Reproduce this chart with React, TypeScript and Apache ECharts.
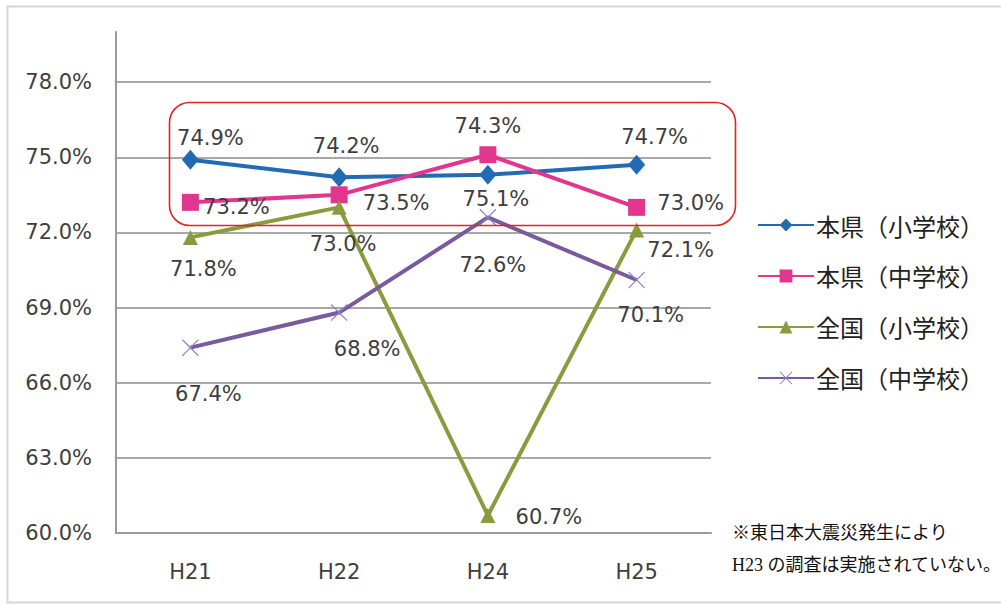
import React, { useEffect, useRef } from "react";
import * as echarts from "echarts";

const categories = ["H21", "H22", "H24", "H25"];
const seriesNames = ["本県（小学校）", "本県（中学校）", "全国（小学校）", "全国（中学校）"];
const prefElementary = [74.9, 74.2, 74.3, 74.7];
const prefJunior = [73.2, 73.5, 75.1, 73.0];
const natElementary = [71.8, 73.0, 60.7, 72.1];
const natJunior = [67.4, 68.8, 72.6, 70.1];
const yMin = 60;
const yMax = 80;
const yInterval = 3;
const noteLines = ["※東日本大震災発生により", "H23 の調査は実施されていない。"];

// label offsets (style) relative to each marker centre
const offBlue = [[20, -22], [7, -31], [0, -49], [18, -28]];
const offPink = [[46, 5], [57, 8], [8, 44], [54, -4]];
const offGreen = [[13, 32], [4, 37], [61, 2], [44, 20]];
const offPurple = [[18, 46], [28, 36], [5, 48], [14, 35]];

const crossPath =
  "path://M0,1 L1,0 L10,9 L19,0 L20,1 L11,10 L20,19 L19,20 L10,11 L1,20 L0,19 L9,10 Z";

const FONT = "DejaVu Sans";

const labelFont = {
  fontFamily: FONT,
  fontSize: 21,
  color: "#3e3e3e",
};

function mkSeries(
  name: string,
  data: number[],
  color: string,
  symbol: string,
  symbolSize: any,
  offsets: number[][],
  symbolColor?: string
) {
  return {
    name,
    type: "line",
    data: data.map((v, i) => ({
      value: v,
      label: { offset: offsets[i] },
    })),
    symbol,
    symbolSize,
    lineStyle: { color, width: 4 },
    itemStyle: { color: symbolColor || color },
    label: {
      show: true,
      position: "inside",
      formatter: (p: any) => p.value.toFixed(1) + "%",
      ...labelFont,
    },
    z: 3,
  };
}

export default function App() {
  const ref = useRef<HTMLDivElement>(null);
  useEffect(() => {
    if (!ref.current) return;
    const chart = echarts.init(ref.current, null, { renderer: "svg" });
    chart.setOption({
      animation: false,
      backgroundColor: "#ffffff",
      grid: { left: 116, right: 290, top: 32, bottom: 72 },
      xAxis: {
        type: "category",
        data: categories,
        boundaryGap: true,
        axisTick: { show: false },
        axisLine: { lineStyle: { color: "#9a9a9a", width: 2 } },
        axisLabel: {
          margin: 28,
          ...labelFont,
        },
      },
      yAxis: {
        type: "value",
        min: yMin,
        max: yMax,
        interval: yInterval,
        axisLine: { show: true, lineStyle: { color: "#9a9a9a", width: 2 } },
        axisTick: { show: false },
        axisLabel: {
          margin: 24,
          showMaxLabel: false,
          formatter: (v: number) => v.toFixed(1) + "%",
          ...labelFont,
        },
        splitLine: {
          show: true,
          showMaxLine: false,
          lineStyle: { color: "#a8a8a8", width: 2 },
        },
      },
      legend: {
        orient: "vertical",
        left: 752,
        top: 208,
        itemWidth: 56,
        itemHeight: 16,
        itemGap: 27,
        textStyle: {
          fontFamily: "Noto Sans CJK JP",
          fontSize: 24,
          color: "#222222",
          padding: [0, 0, 0, -3],
        },
        data: seriesNames,
      },
      series: [
        mkSeries(seriesNames[0], prefElementary, "#226ab4", "diamond", [17, 20], offBlue),
        mkSeries(seriesNames[1], prefJunior, "#e2358d", "rect", 17, offPink),
        mkSeries(seriesNames[2], natElementary, "#8a9b3e", "triangle", 15, offGreen),
        mkSeries(seriesNames[3], natJunior, "#7a5a9e", crossPath, 17, offPurple, "#8e80c4"),
      ],
      graphic: [
        {
          type: "rect",
          left: 5,
          top: 4,
          shape: { width: 1000, height: 596 },
          style: { fill: "none", stroke: "#d6d6d6", lineWidth: 2 },
          z: 0,
        },
        {
          type: "rect",
          left: 167,
          top: 100,
          shape: { width: 566, height: 123, r: 20 },
          style: { fill: "none", stroke: "#e52222", lineWidth: 1.6 },
          z: 10,
        },
        {
          type: "text",
          left: 732,
          top: 524,
          style: {
            text: noteLines[0],
            fontFamily: "Liberation Serif, Noto Sans CJK JP, serif",
            fontSize: 18,
            fill: "#111111",
          },
          z: 10,
        },
        {
          type: "text",
          left: 732,
          top: 556,
          style: {
            text: noteLines[1],
            fontFamily: "Liberation Serif, Noto Sans CJK JP, serif",
            fontSize: 18,
            fill: "#111111",
          },
          z: 10,
        },
      ],
    });
    return () => chart.dispose();
  }, []);
  return (
    <div
      ref={ref}
      style={{ position: "fixed", left: 0, top: 0, width: 1001, height: 605 }}
    />
  );
}
